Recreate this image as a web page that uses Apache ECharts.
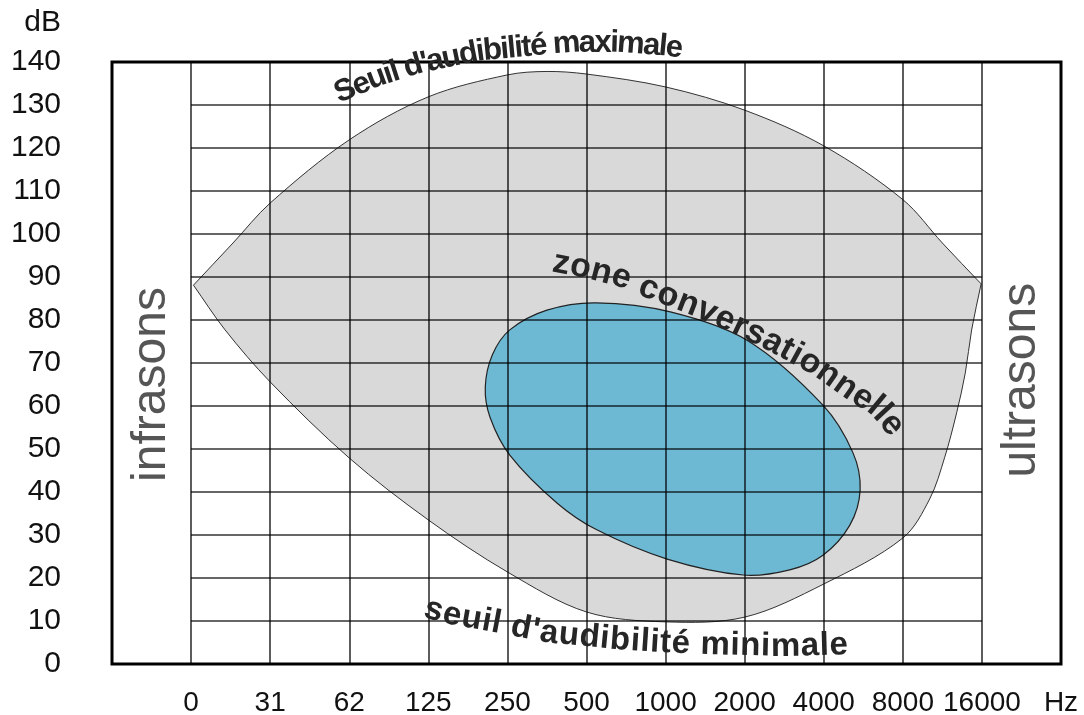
<!DOCTYPE html>
<html><head><meta charset="utf-8">
<script src="https://cdn.jsdelivr.net/npm/echarts@6/dist/echarts.min.js"></script>
<style>html,body{margin:0;padding:0;background:#fff}#c{width:1084px;height:715px}</style>
</head><body><div id="c"></div>
<script>
// ---- data (x = index of frequency column, y = dB) ----
const freqLabels = ['0','31','62','125','250','500','1000','2000','4000','8000','16000'];
const unitX = 'Hz';
const unitY = 'dB';
const dbMin = 0, dbMax = 140, dbStep = 10;

const upperThreshold = [[0.03,88.1],[0.53,97.9],[1.0,107.2],[2.0,121.9],[3.0,131.9],[4.0,137.0],[4.5,137.8],[5.0,137.2],[6.0,134.2],[7.0,128.8],[8.0,120.5],[9.0,108.0],[9.5,97.9],[9.99,88.4]];
const lowerThreshold = [[0.03,88.1],[0.43,77.7],[1.0,65.6],[2.0,47.9],[3.0,33.5],[4.0,21.4],[5.0,12.1],[6.0,9.8],[7.0,10.9],[8.0,18.6],[9.0,29.3],[9.34,38.4],[9.53,48.1],[9.68,58.4],[9.79,67.7],[9.87,77.7],[9.99,88.4]];
const conversationZone = [[5.12,84.0],[6.06,81.9],[7.03,75.3],[7.99,60.2],[8.37,49.1],[8.46,40.5],[8.33,32.3],[7.99,25.3],[7.57,21.9],[6.98,20.7],[6.02,24.4],[5.13,31.2],[4.63,37.4],[4.03,48.6],[3.78,57.4],[3.72,64.4],[3.81,71.9],[4.03,77.7],[4.50,82.3]];

const maxLabelText = "Seuil d'audibilité maximale";
const maxLabelPath = [[1.83,132.3],[2.351,136.3],[2.857,139.3],[3.616,142.3],[4.829,144.4],[5.386,144.4],[6.018,143.5],[6.22,143.0]];
const zoneLabelText = 'zone conversationnelle';
const zoneLabelPath = [[4.577,93.5],[4.981,92.1],[5.461,89.8],[5.828,87.0],[6.397,83.0],[6.852,79.3],[7.231,76.0],[7.611,72.3],[7.952,68.8],[8.331,63.7],[8.673,59.8],[8.938,54.0]];
const minLabelText = "seuil d'audibilité minimale";
const minLabelPath = [[2.958,13.0],[3.274,11.4],[3.780,9.8],[4.501,7.2],[5.386,5.6],[5.967,4.9],[6.599,4.4],[7.484,4.0],[8.306,4.4]];
const sideLabels = [['infrasons',-0.5,65.0],['ultrasons',10.5,66.0]];

// ---- chart ----
const FONT = "'Liberation Sans', Arial, Helvetica, sans-serif";
const chart = echarts.init(document.getElementById('c'), null, {renderer:'canvas'});
const mctx = document.createElement('canvas').getContext('2d');
const gridLine = {color:'rgba(0,0,0,0.8)', width:1.6};

// smooth cubic path through pixel points (open or closed)
function curveSegs(p, closed) {
  const n = p.length;
  const get = i => closed ? p[(i + n) % n] : p[Math.max(0, Math.min(n - 1, i))];
  const d = (a, b) => Math.hypot(b[0]-a[0], b[1]-a[1]) || 1;
  const tan = i => {
    const a = get(i-1), b = get(i+1);
    const s = d(get(i), a) + d(b, get(i));
    return [(b[0]-a[0])/s, (b[1]-a[1])/s];
  };
  let str = '';
  const last = closed ? n : n - 1;
  for (let i = 0; i < last; i++) {
    const p0 = get(i), p1 = get(i+1), len = d(p0, p1) / 3;
    const t0 = tan(i), t1 = tan(i+1);
    str += ' C' + (p0[0]+t0[0]*len) + ',' + (p0[1]+t0[1]*len) + ' ' + (p1[0]-t1[0]*len) + ',' + (p1[1]-t1[1]*len) + ' ' + p1[0] + ',' + p1[1];
  }
  return str;
}

function textOnPath(api, str, pathData, size, weight, fill) {
  const pts = pathData.map(p => api.coord(p));
  const cum = [0];
  for (let i = 1; i < pts.length; i++) cum.push(cum[i-1] + Math.hypot(pts[i][0]-pts[i-1][0], pts[i][1]-pts[i-1][1]));
  const L = cum[cum.length-1];
  const at = s => {
    s = Math.max(0, Math.min(L, s));
    let i = 1; while (i < cum.length-1 && cum[i] < s) i++;
    const t = (s - cum[i-1]) / ((cum[i]-cum[i-1]) || 1);
    return [pts[i-1][0] + t*(pts[i][0]-pts[i-1][0]), pts[i-1][1] + t*(pts[i][1]-pts[i-1][1])];
  };
  mctx.font = weight + ' ' + size + 'px ' + FONT;
  const chars = Array.from(str);
  const w = chars.map(c => mctx.measureText(c).width);
  const W = w.reduce((a,b)=>a+b,0);
  const gap = (L - W) / (chars.length - 1);
  const out = [];
  let acc = 0;
  chars.forEach((c, k) => {
    const s = acc + w[k]/2;
    acc += w[k] + gap;
    if (c === ' ') return;
    const p = at(s), a = at(s-12), b = at(s+12);
    const ang = Math.atan2(b[1]-a[1], b[0]-a[0]);
    out.push({type:'text', x:p[0], y:p[1], rotation:-ang,
      style:{text:c, fontSize:size, fontWeight:weight, fontFamily:FONT, fill:fill, align:'center', verticalAlign:'middle'}});
  });
  return out;
}

const option = {
  animation: false,
  backgroundColor: '#fff',
  graphic: [{type:'text', x:61, y:23, z:10,
    style:{text:unitY, fontSize:30, fontFamily:FONT, fill:'#111', align:'right', verticalAlign:'middle'}}],
  grid: [
    {left:112, right:23, top:62, bottom:51, show:true, borderColor:'#000', borderWidth:3, outerBoundsMode:'none', containLabel:false},
    {left:191, right:102, top:62, bottom:51, show:false, outerBoundsMode:'none', containLabel:false}
  ],
  xAxis: [
    {type:'value', gridIndex:0, min:-1, max:11, interval:1, z:3,
     axisLine:{show:false}, axisTick:{show:false},
     axisLabel:{margin:25, fontSize:28, color:'#111', fontFamily:FONT, showMinLabel:true, showMaxLabel:true,
       formatter: v => (v >= 0 && v < freqLabels.length) ? freqLabels[v] : (v === 11 ? unitX : '')},
     splitLine:{show:true, lineStyle:gridLine}},
    {type:'value', gridIndex:1, min:0, max:10, show:false}
  ],
  yAxis: [
    {type:'value', gridIndex:0, min:dbMin, max:dbMax, interval:dbStep,
     axisLine:{show:false}, axisTick:{show:false},
     axisLabel:{margin:51, fontSize:30, color:'#111', fontFamily:FONT},
     splitLine:{show:false}},
    {type:'value', gridIndex:1, min:dbMin, max:dbMax, interval:dbStep, z:3,
     axisLine:{show:false}, axisTick:{show:false}, axisLabel:{show:false},
     splitLine:{show:true, lineStyle:gridLine}}
  ],
  series: [
    {type:'custom', name:'audible', xAxisIndex:0, yAxisIndex:0, z:2, silent:true, data:[[0,0]],
     renderItem:(params, api) => {
       const up = upperThreshold.map(p => api.coord(p));
       const lo = lowerThreshold.map(p => api.coord(p)).reverse();
       const path = 'M' + up[0][0] + ',' + up[0][1] + curveSegs(up, false) + ' L' + lo[0][0] + ',' + lo[0][1] + curveSegs(lo, false) + ' Z';
       return {type:'path', shape:{pathData: path}, style:{fill:'#d9d9d9', stroke:'#333', lineWidth:1}};
     }},
    {type:'custom', name:'zone', xAxisIndex:0, yAxisIndex:0, z:2, silent:true, data:[[0,0]],
     renderItem:(params, api) => {
       const pts = conversationZone.map(p => api.coord(p));
       const path = 'M' + pts[0][0] + ',' + pts[0][1] + curveSegs(pts, true) + ' Z';
       return {type:'path', shape:{pathData: path}, style:{fill:'#6db9d4', stroke:'#222', lineWidth:1.2}};
     }},
    {type:'custom', name:'labels', xAxisIndex:0, yAxisIndex:0, z:5, silent:true, data:[[0,0]],
     renderItem:(params, api) => {
       let children = [];
       children = children.concat(textOnPath(api, maxLabelText, maxLabelPath, 31, 'bold', '#262626'));
       children = children.concat(textOnPath(api, zoneLabelText, zoneLabelPath, 34, 'bold', '#262626'));
       children = children.concat(textOnPath(api, minLabelText, minLabelPath, 33, 'bold', '#262626'));
       sideLabels.forEach(s => {
         const p = api.coord([s[1], s[2]]);
         children.push({type:'text', x:p[0], y:p[1], rotation:Math.PI/2,
           style:{text:s[0], fontSize:48, fontFamily:FONT, fill:'#555', align:'center', verticalAlign:'middle'}});
       });
       return {type:'group', children};
     }}
  ]
};
chart.setOption(option);
</script>
</body></html>
